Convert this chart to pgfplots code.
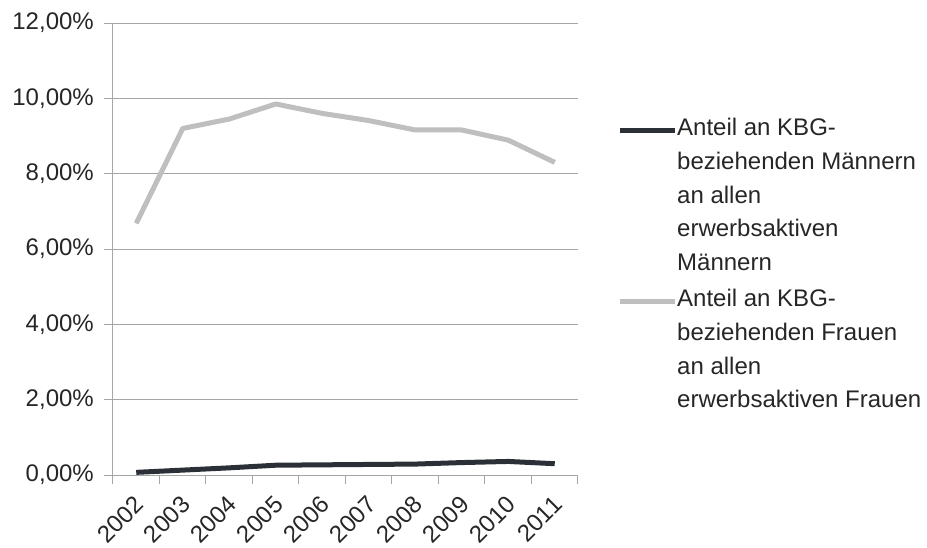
\documentclass[border=0pt]{standalone}
\usepackage{fontspec}
\setmainfont{Liberation Sans}
\usepackage{pgfplots}
\pgfplotsset{compat=1.18}
\definecolor{men}{HTML}{2B2F36}
\definecolor{women}{HTML}{BFBFBF}
\definecolor{gridc}{HTML}{A6A6A6}
\definecolor{txt}{HTML}{262626}
\begin{document}
\begin{tikzpicture}
\path[use as bounding box] (-113pt,-72pt) rectangle (814pt,475pt);
\begin{axis}[
  at={(0pt,0pt)}, anchor=south west,
  scale only axis, width=465pt, height=452pt,
  xmin=-0.5, xmax=9.5, ymin=0, ymax=12,
  axis x line*=bottom, axis y line*=left,
  axis line style={gridc, line width=1pt, -},
  tick align=outside,
  xtick={0,1,2,3,4,5,6,7,8,9},
  xticklabels={2002,2003,2004,2005,2006,2007,2008,2009,2010,2011},
  major x tick style={draw=none},
  minor xtick={-0.5,0.5,1.5,2.5,3.5,4.5,5.5,6.5,7.5,8.5,9.5},
  minor x tick style={gridc, line width=1pt},
  minor tick length=9pt,
  ytick={0,2,4,6,8,10,12},
  yticklabels={{0,00\%},{2,00\%},{4,00\%},{6,00\%},{8,00\%},{10,00\%},{12,00\%}},
  major tick length=9pt,
  major y tick style={gridc, line width=1pt},
  ymajorgrids,
  major grid style={gridc, line width=1pt},
  ticklabel style={font=\fontsize{24}{28}\selectfont, text=txt},
  xticklabel style={xshift=-3pt, rotate=45, anchor=north east, inner sep=1pt},
  xticklabel shift=9pt,
  yticklabel style={inner sep=2pt},
  yticklabel shift=8pt,
  legend style={at={(1.0839,0.7896)}, anchor=north west, draw=none, fill=none,
    inner sep=0pt, font=\fontsize{24}{33.7}\selectfont, text=txt,
    nodes={inner sep=0pt, align=left}, row sep=17.5pt},
  legend cell align=left,
]
\addplot[men, line width=5pt, line join=round,
  legend image code/.code={\draw[men, line width=5pt] (0pt,65pt) -- (55pt,65pt);}]
  coordinates {(0,0.07) (1,0.13) (2,0.19) (3,0.26) (4,0.27) (5,0.28) (6,0.29) (7,0.33) (8,0.36) (9,0.30)};
\addlegendentry{Anteil an KBG-\\beziehenden Männern\\an allen\\erwerbsaktiven\\Männern}
\addplot[women, line width=5pt, line join=round,
  legend image code/.code={\draw[women, line width=5pt] (0pt,48.1pt) -- (55pt,48.1pt);}]
  coordinates {(0,6.68) (1,9.20) (2,9.45) (3,9.85) (4,9.60) (5,9.41) (6,9.16) (7,9.16) (8,8.89) (9,8.30)};
\addlegendentry{Anteil an KBG-\\beziehenden Frauen\\an allen\\erwerbsaktiven Frauen}
\end{axis}
\end{tikzpicture}
\end{document}
